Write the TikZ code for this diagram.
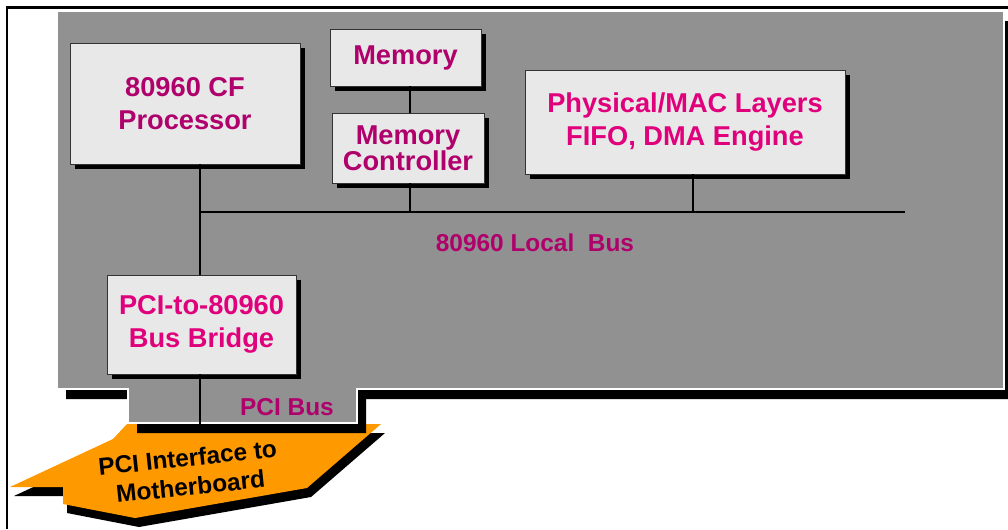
\documentclass[tikz,border=0pt]{standalone}
\usepackage{fontspec}
\setmainfont{Liberation Sans}
\usetikzlibrary{shadows}
\definecolor{boardgray}{HTML}{919191}
\definecolor{boxfill}{HTML}{E8E8E8}
\definecolor{magdark}{HTML}{B0006B}
\definecolor{magbright}{HTML}{E0007B}
\definecolor{connorange}{HTML}{FF9900}

\begin{document}
\begin{tikzpicture}[x=0.02cm,y=-0.02cm,
  unit/.style={draw=black!80,fill=boxfill,line width=0.5pt,align=center,inner sep=0pt,
    font=\bfseries\fontsize{15.5}{19}\selectfont,
    drop shadow={shadow xshift=2.9pt,shadow yshift=-2.9pt,fill=black,opacity=1}},
  bus/.style={line width=1.6pt},
  buslabel/.style={font=\bfseries\fontsize{13.9}{16}\selectfont,text=magdark}]
  \useasboundingbox (0,0) rectangle (1008,529);
  \fill[white] (0,0) rectangle (1008,529);
  \draw[line width=1.7pt] (7,529) -- (7,7) -- (1008,7);
  \begin{scope}[shift={(4,9)}]
    \fill[black] (127,424) -- (381,424) -- (307,488) -- (135,518) -- (63,504) -- (63,487) -- (10,487) -- (113,439) -- cycle;
  \end{scope}
  \fill[connorange] (127,424) -- (381,424) -- (307,488) -- (135,518) -- (63,504) -- (63,487) -- (10,487) -- (113,439) -- cycle;
  \node[rotate=6,align=center,inner sep=1pt,font=\bfseries\fontsize{13.9}{16.5}\selectfont] (iface) at (189,472) {PCI Interface to\\Motherboard};
  \begin{scope}[shift={(9,10)}]
    \fill[black] (57,11) -- (1004,11) -- (1004,389) -- (357,389) -- (357,423) -- (128,423) -- (128,389) -- (57,389) -- cycle;
  \end{scope}
  \filldraw[fill=boardgray,draw=white,line width=0.6pt] (57,11) -- (1004,11) -- (1004,389) -- (357,389) -- (357,423) -- (128,423) -- (128,389) -- (57,389) -- cycle;
  \node[unit,text=magdark,minimum width=4.6cm,minimum height=2.42cm] (proc) at (185,103.5) {80960 CF\\Processor};
  \node[unit,text=magdark,minimum width=3.02cm,minimum height=1.14cm] (mem) at (405.5,57.5) {Memory};
  \node[unit,text=magdark,minimum width=3.04cm,minimum height=1.4cm,font=\bfseries\fontsize{15.5}{15}\selectfont] (ctrl) at (408,148) {Memory\\Controller};
  \node[unit,text=magbright,minimum width=6.4cm,minimum height=2.08cm] (phys) at (685,122) {Physical/MAC Layers\\FIFO, DMA Engine};
  \node[unit,text=magbright,minimum width=3.78cm,minimum height=1.98cm] (bridge) at (201.5,324.5) {PCI-to-80960\\Bus Bridge};
  \coordinate (busl) at (200,212);
  \coordinate (busr) at (905,212);
  \coordinate (memtap) at (410,212);
  \coordinate (phytap) at (693,212);
  \coordinate (pcitop) at (200,424);
  \draw[bus] (busl) -- (busr);
  \draw[bus] (proc.south -| busl) -- (bridge.north -| busl);
  \draw[bus] (bridge.south -| pcitop) -- (pcitop);
  \draw[bus] (mem.south -| memtap) -- (ctrl.north -| memtap);
  \draw[bus] (ctrl.south -| memtap) -- (memtap);
  \draw[bus] (phys.south -| phytap) -- (phytap);
  \node[buslabel] (localbus) at (535,243) {80960 Local\ \ Bus};
  \node[buslabel] (pcibus) at (287,407) {PCI Bus};
\end{tikzpicture}
\end{document}
